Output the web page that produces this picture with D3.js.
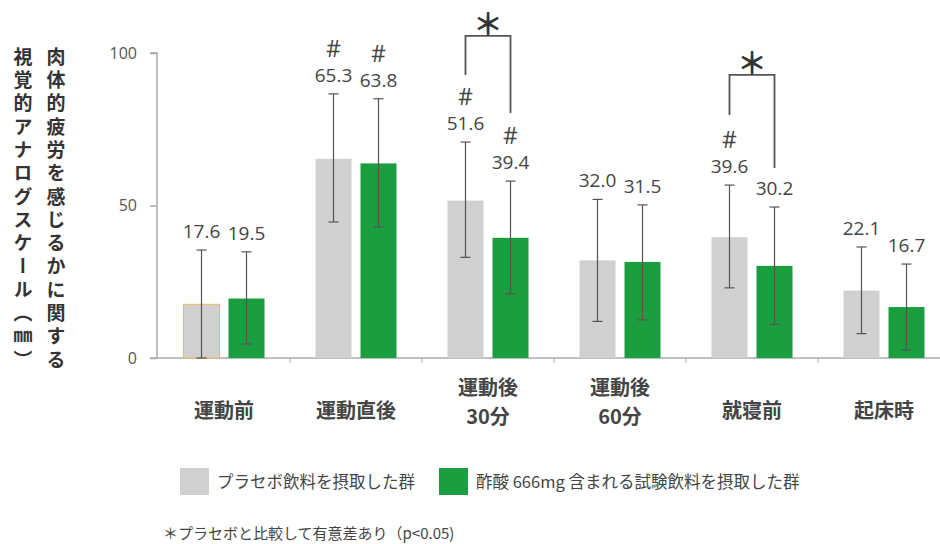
<!DOCTYPE html>
<html>
<head>
<meta charset="utf-8">
<script src="https://cdn.jsdelivr.net/npm/d3@7"></script>
<style>
  body { margin: 0; background: #fff; }
  svg { font-family: "Noto Sans CJK JP", "Noto Sans", sans-serif; }
</style>
</head>
<body>
<div id="chart"></div>
<script>
const categories = [["運動前"], ["運動直後"], ["運動後", "30分"], ["運動後", "60分"], ["就寝前"], ["起床時"]];
const placebo = [17.6, 65.3, 51.6, 32.0, 39.6, 22.1];
const acetic = [19.5, 63.8, 39.4, 31.5, 30.2, 16.7];
const placeboLo = [0, 44.6, 33, 12, 23, 8];
const placeboHi = [35.4, 86.6, 70.8, 52, 56.7, 36.4];
const aceticLo = [4.6, 43, 21, 12.5, 11, 2.6];
const aceticHi = [34.8, 85, 58, 50.2, 49.5, 30.8];
const placeboHash = [false, true, true, false, true, false];
const aceticHash = [false, true, true, false, false, false];
// significance brackets: category index, top, left leg end, right leg end (data units)
const sigIndex = [2, 4];
const sigTop = [105.6, 92.8];
const sigLeft = [92.8, 79.7];
const sigRight = [80.3, 62.3];
const yTicks = [0, 50, 100];
const seriesNames = ["プラセボ飲料を摂取した群", "酢酸 666mg 含まれる試験飲料を摂取した群"];
const colors = ["#d0d0d0", "#1a9e40"];

const width = 940, height = 544;
const svg = d3.select("#chart").append("svg")
    .attr("width", width)
    .attr("height", height);

const x = d3.scaleBand()
    .domain(d3.range(categories.length))
    .range([158, 950])
    .paddingInner(0);

const xSub = d3.scaleBand()
    .domain([0, 1])
    .range([25.5, 106.5])
    .paddingInner(0.2);

const y = d3.scaleLinear()
    .domain([0, 100])
    .range([358, 53]);

// y axis
const yAxis = svg.append("g")
    .attr("transform", "translate(157,0)")
    .call(d3.axisLeft(y).tickValues(yTicks).tickSize(7).tickPadding(13));
yAxis.select(".domain").attr("stroke", "#aaa").attr("stroke-width", 1.5).attr("d", "M-7,53H0V358");
yAxis.selectAll(".tick line").attr("stroke", "#aaa").attr("stroke-width", 1.5);
yAxis.selectAll(".tick text")
    .attr("fill", "#555")
    .style("font-size", "16px")
    .style("font-family", "'Open Sans', sans-serif");

// x axis line with boundary ticks
svg.append("line")
    .attr("x1", 150).attr("x2", 940)
    .attr("y1", y(0)).attr("y2", y(0))
    .attr("stroke", "#aaa")
    .attr("stroke-width", 1.5);
svg.selectAll(".xtick")
    .data(d3.range(1, categories.length))
    .enter().append("line")
    .attr("x1", d => x(d)).attr("x2", d => x(d))
    .attr("y1", y(0)).attr("y2", y(0) + 5)
    .attr("stroke", "#aaa");

// category labels, one text per line
categories.forEach((lines, i) => {
    lines.forEach((l, j) => {
        svg.append("text")
            .attr("x", x(i) + x.bandwidth() / 2)
            .attr("y", lines.length === 1 ? 418 : 395 + j * 29)
            .attr("text-anchor", "middle")
            .attr("fill", "#444")
            .style("font-size", "20px")
            .style("font-weight", "bold")
            .text(l);
    });
});

const groups = [
    { vals: placebo, lo: placeboLo, hi: placeboHi, hash: placeboHash },
    { vals: acetic, lo: aceticLo, hi: aceticHi, hash: aceticHash }
];

groups.forEach((g, s) => {
    const cx = i => x(i) + xSub(s) + xSub.bandwidth() / 2;

    svg.selectAll(".bar" + s)
        .data(g.vals)
        .enter().append("rect")
        .attr("x", (d, i) => x(i) + xSub(s))
        .attr("y", d => y(d))
        .attr("width", xSub.bandwidth())
        .attr("height", d => y(0) - y(d))
        .attr("fill", colors[s])
        .attr("stroke", (d, i) => (s === 0 && i === 0) ? "#f0b860" : "none")
        .attr("stroke-width", 1);

    // error bars
    g.vals.forEach((v, i) => {
        const eb = svg.append("g").attr("stroke", "#555").attr("stroke-width", 1.2);
        eb.append("line")
            .attr("x1", cx(i)).attr("x2", cx(i))
            .attr("y1", y(g.lo[i])).attr("y2", y(g.hi[i]));
        [g.lo[i], g.hi[i]].forEach(e => {
            eb.append("line")
                .attr("x1", cx(i) - 5).attr("x2", cx(i) + 5)
                .attr("y1", y(e)).attr("y2", y(e));
        });

        svg.append("text")
            .attr("x", cx(i))
            .attr("y", y(g.hi[i]) - 12)
            .attr("text-anchor", "middle")
            .attr("fill", "#444")
            .style("font-size", "19px")
            .style("font-family", "'Open Sans', sans-serif")
            .text(v.toFixed(1));

        if (g.hash[i]) {
            svg.append("text")
                .attr("x", cx(i))
                .attr("y", y(g.hi[i]) - 37)
                .attr("text-anchor", "middle")
                .attr("fill", "#444")
                .style("font-size", "23px")
                .style("font-family", "'Open Sans', sans-serif")
                .text("#");
        }
    });
});

// significance brackets
sigIndex.forEach((ci, k) => {
    const x1 = x(ci) + xSub(0) + xSub.bandwidth() / 2;
    const x2 = x(ci) + xSub(1) + xSub.bandwidth() / 2;
    svg.append("path")
        .attr("d", `M${x1},${y(sigLeft[k])}V${y(sigTop[k])}H${x2}V${y(sigRight[k])}`)
        .attr("fill", "none")
        .attr("stroke", "#555")
        .attr("stroke-width", 1.8);
    svg.append("text")
        .attr("x", (x1 + x2) / 2)
        .attr("y", y(sigTop[k]) - 1)
        .attr("text-anchor", "middle")
        .attr("fill", "#333")
        .style("font-size", "30px")
        .style("font-weight", "bold")
        .text("＊");
});

// y axis title (two vertical columns)
const yTitle = ["肉体的疲労を感じるかに関する", "視覚的アナログスケール（㎜）"];
yTitle.forEach((t, i) => {
    svg.append("text")
        .attr("x", 56 - i * 33)
        .attr("y", 47)
        .attr("fill", "#333")
        .style("writing-mode", "vertical-rl")
        .style("font-size", "19px")
        .style("font-weight", "bold")
        .style("letter-spacing", "4.3px")
        .text(t);
});

// legend
const legendX = [180, 439];
seriesNames.forEach((n, i) => {
    svg.append("rect")
        .attr("x", legendX[i]).attr("y", 468)
        .attr("width", 29).attr("height", 27)
        .attr("fill", colors[i]);
    svg.append("text")
        .attr("x", legendX[i] + 37)
        .attr("y", 488)
        .attr("fill", "#444")
        .style("font-size", "16.5px")
        .text(n);
});

svg.append("text")
    .attr("x", 163)
    .attr("y", 539)
    .attr("fill", "#444")
    .style("font-size", "15px")
    .text("＊プラセボと比較して有意差あり（p<0.05)");
</script>
</body>
</html>
